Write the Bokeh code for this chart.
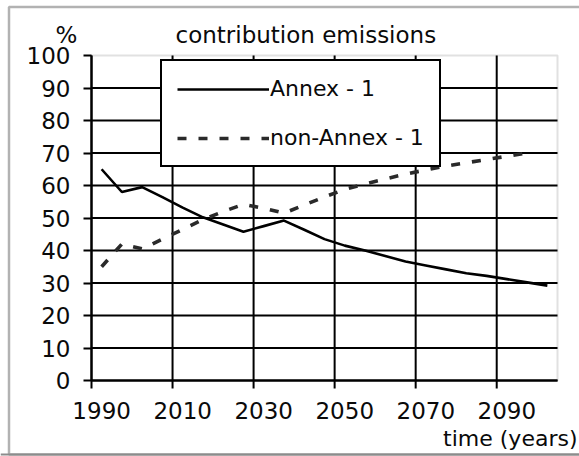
from bokeh.plotting import figure
from bokeh.models import LinearAxis, FixedTicker, Range1d, Label, BoxAnnotation, Legend, Span
from bokeh.embed import file_html
from bokeh.resources import INLINE

# ---- data ----
years = [1990, 1995, 2000, 2005, 2010, 2015, 2020, 2025, 2030, 2035, 2040, 2045,
         2050, 2055, 2060, 2065, 2070, 2075, 2080, 2085, 2090, 2095, 2100]
annex = [65, 58, 59.5, 56.4, 53.2, 50.2, 48, 45.8, 47.5, 49.2, 46.4, 43.5,
         41.5, 40, 38.3, 36.6, 35.4, 34.2, 33, 32.2, 31.2, 30.2, 29.2]
non_annex_years = [1990, 1995, 2000, 2005, 2010, 2015, 2020, 2025, 2030, 2035, 2040,
                   2045, 2050, 2055, 2060, 2065, 2070, 2075, 2080, 2085, 2090, 2095]
non_annex = [35, 42, 40.5, 43.5, 46.5, 49.5, 52, 54.2, 53, 51.5, 54,
             56.5, 58.8, 60.5, 62, 63.5, 64.8, 66, 67, 68, 69, 70]
tick_years = [1990, 2010, 2030, 2050, 2070, 2090]
y_ticks = [0, 10, 20, 30, 40, 50, 60, 70, 80, 90, 100]
series_names = ["Annex - 1", "non-Annex - 1"]
title_text = "contribution emissions"
y_unit = "%"
x_title = "time (years)"

# ---- layout (pixels) ----
W, H = 579, 456
PL, PR, PT, PB = 91, 557, 55, 380      # plot area inside the canvas
TICK = 8
FONT = "DejaVu Sans"
FS = "23px"
FS_SMALL = "22px"
TXT = "#0a0a0a"
half_step = 2.5  # categories are 5 years wide; gridlines sit on category boundaries

x_lo, x_hi = years[0] - half_step, years[-1] + half_step
y_lo, y_hi = y_ticks[0], y_ticks[-1]
ppx = (PR - PL) / (x_hi - x_lo)
ppy = (PB - PT) / (y_hi - y_lo)
xr = Range1d(x_lo - PL / ppx, x_hi + (W - PR) / ppx)
yr = Range1d(y_lo - (H - PB) / ppy, y_hi + PT / ppy)


def px2x(px):
    return x_lo + (px - PL) / ppx


def px2y(py):
    return y_lo + (PB - py) / ppy


boundaries = [t - half_step for t in tick_years]
inner_ticks = y_ticks[:-1]

p = figure(width=W, height=H, output_backend="svg", toolbar_location=None,
           x_range=xr, y_range=yr, x_axis_location=None, y_axis_location=None,
           min_border=0, min_border_left=0, min_border_right=0,
           min_border_top=0, min_border_bottom=0)
p.outline_line_color = None
p.background_fill_color = "white"
p.border_fill_color = "white"
p.xgrid.visible = False
p.ygrid.visible = False

# outer chart border
p.add_layout(BoxAnnotation(left=px2x(8.5), right=px2x(W + 10), top=px2y(6.5),
                           bottom=px2y(454), fill_alpha=0, line_color="black",
                           line_width=2.5, level="underlay"))
p.add_layout(Span(location=px2y(454), dimension="width", line_color="#8c8c8c",
                  line_width=2, level="underlay"))

# plot-area frame (grey on top and right)
p.add_layout(BoxAnnotation(left=x_lo, right=x_hi, bottom=y_lo, top=y_hi,
                           fill_alpha=0, line_color="#9a9a9a", line_width=2,
                           level="underlay"))

# grid lines (vertical ones run down past the axis as tick marks)
p.segment(x0=boundaries, x1=boundaries, y0=[y_lo - TICK / ppy] * len(boundaries),
          y1=[y_hi] * len(boundaries), line_color="black", line_width=2)
p.segment(x0=[x_lo] * len(inner_ticks), x1=[x_hi] * len(inner_ticks),
          y0=inner_ticks, y1=inner_ticks, line_color="black", line_width=2)

# y axis
yaxis = LinearAxis(fixed_location=x_lo, bounds=(y_lo, y_hi),
                   ticker=FixedTicker(ticks=y_ticks), major_tick_out=TICK, major_tick_in=0,
                   major_label_standoff=13, axis_line_width=2, axis_line_color="black",
                   major_tick_line_width=2, major_tick_line_color="black",
                   major_label_text_font=FONT, major_label_text_font_size=FS,
                   major_label_text_color=TXT)
p.add_layout(yaxis, "left")

# x axis: labels centred on their categories
xaxis = LinearAxis(fixed_location=y_lo, bounds=(x_lo, x_hi),
                   ticker=FixedTicker(ticks=tick_years), major_tick_out=0, major_tick_in=0,
                   axis_line_width=2, axis_line_color="black", major_tick_line_color=None,
                   major_label_standoff=21,
                   major_label_overrides={t: str(t) for t in tick_years},
                   major_label_text_font=FONT, major_label_text_font_size=FS,
                   major_label_text_color=TXT)
p.add_layout(xaxis, "below")

# series
r1 = p.line(years, annex, line_color="black", line_width=2.6)
r2 = p.line(non_annex_years, non_annex, line_color="#2a2a2a", line_width=3.6,
            line_dash="9 12")

legend = Legend(items=[(series_names[0], [r1]), (series_names[1], [r2])],
                location=(160, H - 167), margin=0, padding=15, spacing=24,
                glyph_width=92, glyph_height=24, label_height=24, label_standoff=1,
                label_text_font=FONT, label_text_font_size=FS_SMALL, label_text_color=TXT,
                border_line_color="black", border_line_width=2, border_line_alpha=1,
                background_fill_color="white", background_fill_alpha=1)
p.add_layout(legend)

# texts
p.add_layout(Label(x=px2x(175), y=px2y(34.5), text=title_text, text_font=FONT,
                   text_font_size=FS, text_baseline="alphabetic", text_align="left",
                   text_color=TXT))
p.add_layout(Label(x=px2x(66), y=px2y(34.5), text=y_unit, text_font=FONT,
                   text_font_size=FS, text_baseline="alphabetic", text_align="center",
                   text_color=TXT))
p.add_layout(Label(x=px2x(577), y=px2y(437.5), text=x_title, text_font=FONT,
                   text_font_size=FS_SMALL, text_baseline="alphabetic", text_align="right",
                   text_color=TXT))

open("out.html", "w").write(file_html(p, INLINE))
